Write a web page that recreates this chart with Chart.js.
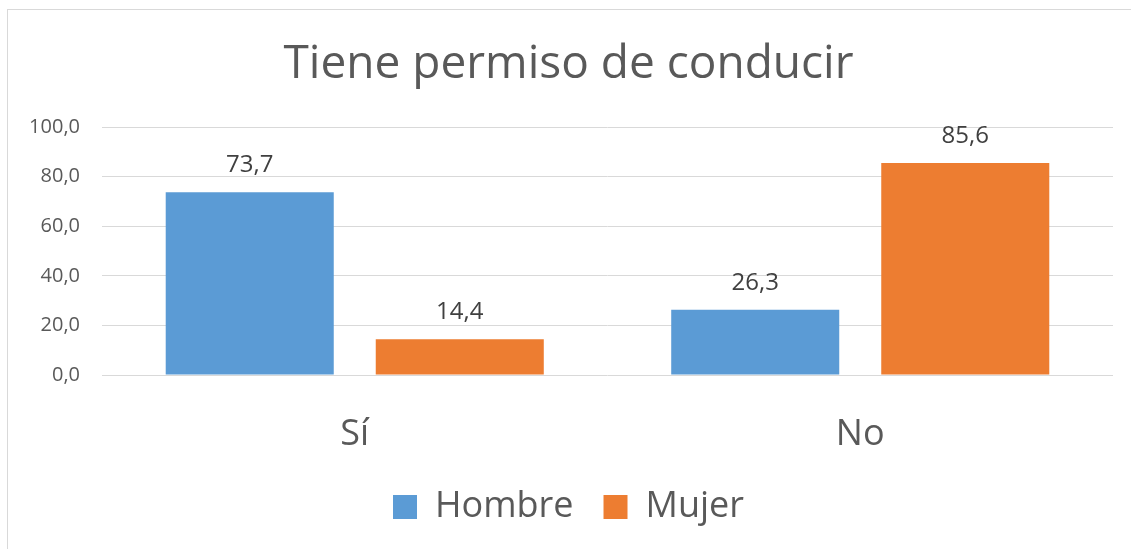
<!DOCTYPE html>
<html>
<head>
<meta charset="utf-8">
<script src="https://cdn.jsdelivr.net/npm/chart.js@4"></script>
<style>
  body { margin: 0; background: #fff; }
  .wrap { position: relative; width: 1131px; height: 549px; overflow: hidden; }
  .frame { position: absolute; left: 7px; top: 9px; width: 1140px; height: 560px; border: 1px solid #d9d9d9; pointer-events: none; }
  canvas { position: absolute; left: 0; top: 0; }
</style>
</head>
<body>
<div class="wrap">
  <div class="frame"></div>
  <canvas id="chartPermiso" width="1131" height="549"></canvas>
</div>
<script>
// datos del grafico
const categorias = ['Sí', 'No'];
const hombre = [73.7, 26.3];
const mujer = [14.4, 85.6];
const ticksY = [0, 20, 40, 60, 80, 100];

const gris = '#595959';
const fuente = "'Open Sans', 'Noto Sans', sans-serif";

function coma(v) {
    return v.toFixed(1).replace('.', ',');
}

// etiquetas de valor encima de cada barra
const etiquetas = {
    id: 'etiquetas',
    afterDatasetsDraw(chart) {
        const ctx = chart.ctx;
        ctx.save();
        ctx.font = '24px ' + fuente;
        ctx.fillStyle = '#404040';
        ctx.textAlign = 'center';
        ctx.textBaseline = 'alphabetic';
        chart.data.datasets.forEach((ds, i) => {
            chart.getDatasetMeta(i).data.forEach((bar, j) => {
                ctx.fillText(coma(ds.data[j]), bar.x, bar.y - 20);
            });
        });
        ctx.restore();
    }
};

new Chart(document.getElementById('chartPermiso'), {
    type: 'bar',
    data: {
        labels: categorias,
        datasets: [
            { label: 'Hombre', data: hombre, backgroundColor: '#5B9BD5' },
            { label: 'Mujer', data: mujer, backgroundColor: '#ED7D31' }
        ]
    },
    options: {
        responsive: false,
        animation: false,
        events: [],
        layout: { padding: { left: 24, right: 18, top: 0, bottom: 14 } },
        datasets: {
            bar: { categoryPercentage: 0.831, barPercentage: 0.8 }
        },
        scales: {
            x: {
                grid: { display: false },
                border: { display: false },
                ticks: { color: gris, font: { family: fuente, size: 36 }, padding: 30 },
                afterFit(s) { s.height = 84; }
            },
            y: {
                min: 0,
                max: 100,
                afterBuildTicks(s) { s.ticks = ticksY.map(v => ({ value: v })); },
                grid: { color: '#d9d9d9', lineWidth: 1, drawTicks: false },
                border: { display: false },
                ticks: {
                    color: gris,
                    font: { family: fuente, size: 20 },
                    padding: 22,
                    callback: v => coma(v)
                },
                afterFit(s) { s.width = 78; }
            }
        },
        plugins: {
            title: {
                display: true,
                text: 'Tiene permiso de conducir',
                color: gris,
                font: { family: fuente, size: 46, weight: 'normal' },
                padding: { top: 37, bottom: 35 }
            },
            legend: {
                position: 'bottom',
                labels: {
                    color: gris,
                    font: { family: fuente, size: 36 },
                    boxWidth: 24,
                    boxHeight: 24,
                    padding: 30
                }
            },
            tooltip: { enabled: false }
        }
    },
    plugins: [etiquetas]
});
</script>
</body>
</html>
